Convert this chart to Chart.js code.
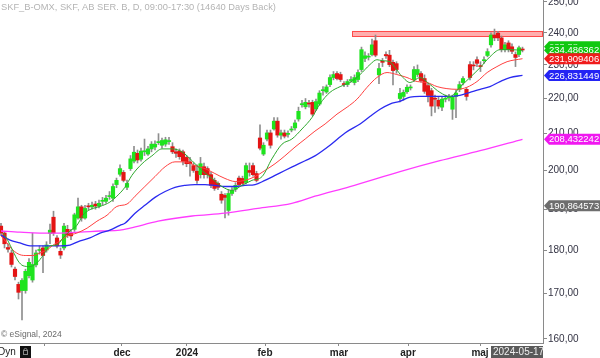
<!DOCTYPE html>
<html><head><meta charset="utf-8">
<script src="https://cdn.jsdelivr.net/npm/chart.js@4.4.1/dist/chart.umd.min.js"></script>
<style>html,body{margin:0;padding:0;background:#fff;overflow:hidden}#wrap{width:600px;height:358px;position:relative}</style>
</head><body><div id="wrap"><canvas id="c" width="600" height="358"></canvas></div>
<script>
const titleText = "SKF_B-OMX, SKF, AB SER. B, D, 09:00-17:30 (14640 Days Back)";
const copyrightText = "\u00a9 eSignal, 2024";
const lastDate = "2024-05-17";

const opens = [185.8,184.1,180.6,179.3,175.5,172.0,170.6,170.6,174.0,173.0,
176.5,179.9,180.5,180.0,184.0,188.0,182.9,179.7,180.5,185.0,
184.0,185.0,187.8,190.6,187.8,190.8,190.6,191.3,190.8,192.0,
192.0,193.2,192.8,196.3,199.0,199.5,195.6,200.5,202.5,204.6,
203.0,205.0,204.4,205.8,206.3,207.5,206.8,207.1,207.8,206.4,
205.0,205.2,205.0,203.5,202.3,201.3,199.8,198.9,201.0,200.5,
198.9,197.4,196.6,193.8,193.5,189.7,194.0,195.1,198.0,197.9,
196.9,200.0,201.3,199.2,208.8,204.4,208.5,210.2,211.3,213.5,
209.6,210.2,209.8,211.0,211.6,214.1,218.2,217.6,218.6,218.9,
217.0,218.4,222.3,221.9,224.1,226.2,227.4,227.1,224.4,224.1,
225.3,224.7,225.6,228.6,232.0,232.4,
233.2,237.5,227.0,231.0,233.2,233.0,230.8,230.4,220.0,220.6,222.0,223.1,225.6,227.1,227.4,225.9,223.8,222.3,220.0,219.5,217.5,219.8,
220.2,
216.9,220.6,222.7,224.7,222.7,230.1,230.0,231.6,229.8,231.3,232.9,236.2,239.3,239.9,238.4,234.7,236.8,235.6,233.2,233.2,234.8];

const highs = [186.5,184.5,181.5,180.0,176.0,172.5,173.3,175.5,178.0,184.1,
180.0,181.0,181.0,182.0,186.3,189.5,183.5,180.5,186.5,186.0,
185.0,189.0,192.8,191.0,191.0,191.5,191.8,192.0,192.3,193.0,
193.5,194.5,196.5,198.0,201.5,200.0,197.5,204.0,206.5,205.5,
206.0,208.5,206.5,207.8,208.0,210.0,208.8,209.0,209.0,207.5,
205.8,205.8,205.5,204.0,203.5,202.0,201.5,203.5,202.0,201.0,
199.5,198.0,197.0,194.5,194.0,195.0,195.5,196.8,198.5,198.5,
202.0,202.0,202.0,199.8,212.5,207.5,211.0,211.0,214.5,214.5,
211.0,211.0,210.8,212.0,213.8,217.5,219.5,220.0,219.5,219.5,
219.8,222.3,223.5,224.0,227.0,228.0,228.0,227.8,225.0,225.6,
226.5,227.0,228.5,235.5,234.0,233.5,
238.0,239.3,230.5,232.0,234.0,234.5,231.5,231.0,223.0,222.5,224.0,224.0,229.5,230.0,228.0,227.0,224.5,223.0,221.0,220.5,220.5,221.0,
221.2,
221.0,222.5,225.0,226.5,223.2,231.0,231.0,232.5,231.0,232.5,235.0,240.0,241.2,240.5,239.0,237.0,237.5,236.5,234.0,235.8,235.5];

const lows = [183.5,180.5,179.5,176.0,173.0,168.7,164.1,170.0,173.5,172.5,
176.0,179.0,174.7,179.5,181.5,183.5,180.5,178.0,180.0,183.0,
182.5,184.5,187.5,187.0,187.5,189.8,190.0,190.0,190.3,191.0,
191.5,192.5,192.0,195.5,198.5,197.0,195.0,200.0,202.0,202.0,
202.5,204.0,204.0,205.0,205.5,207.0,206.0,206.5,207.0,204.5,
203.5,203.0,201.5,201.0,198.5,199.5,196.6,198.0,198.0,198.0,
195.5,194.8,195.0,191.5,187.8,188.5,193.5,194.5,195.8,196.0,
196.5,198.5,198.5,197.0,205.5,204.0,208.0,206.0,211.0,209.0,
208.5,208.8,209.0,210.5,211.0,213.5,217.5,217.0,217.5,215.0,
216.5,218.0,221.0,221.5,223.5,225.5,225.5,225.0,223.5,223.5,
224.8,224.0,225.0,228.0,231.0,231.5,
232.8,232.5,224.4,229.5,232.0,229.5,224.0,227.5,219.0,219.5,221.5,222.5,225.0,226.5,224.8,221.5,219.0,215.0,216.0,217.0,216.5,219.0,
219.3,
214.0,214.5,222.0,224.0,219.5,225.5,228.5,229.5,228.0,230.5,232.5,235.5,237.5,237.5,234.0,234.0,234.0,233.5,229.5,232.5,234.0];

const closes = [184.1,181.5,180.2,176.6,173.8,170.2,172.9,175.0,177.1,176.6,
179.3,180.0,178.7,181.2,184.8,184.1,181.0,178.8,185.8,183.6,
183.4,188.6,190.6,187.8,190.2,190.6,191.0,190.8,191.5,192.2,
192.8,193.4,195.8,197.4,200.5,197.4,196.6,203.1,204.9,202.8,
205.2,205.3,205.8,207.1,207.1,207.8,208.1,208.3,208.0,205.0,
204.6,203.7,202.5,201.8,201.8,200.0,197.4,201.8,198.9,198.9,
196.1,195.3,195.6,192.3,193.0,194.0,194.8,196.1,196.3,196.6,
201.3,199.5,198.9,197.4,206.0,206.8,210.2,206.8,213.5,209.6,
210.2,209.3,209.9,211.3,213.0,216.3,218.5,218.9,218.4,215.5,
219.1,221.6,222.5,223.4,226.2,227.1,225.9,225.6,224.1,225.0,
225.6,226.2,227.7,234.7,232.8,232.6,
236.2,233.0,228.9,230.8,232.8,230.1,228.3,228.6,221.5,221.8,223.3,223.3,228.6,228.6,225.3,222.1,220.9,217.8,219.8,217.8,219.8,220.0,
220.5,
220.4,221.6,224.1,225.9,220.6,226.2,229.7,230.5,229.5,231.6,234.1,239.3,238.4,238.4,234.7,236.2,234.7,234.2,232.3,235.3,234.6];

// moving averages: [bar index, value]
const maGreen = [[0.6,184.1],[2,182.2],[3.4,179.8],[4.9,177.4],[6.3,176.3],[8.3,176.1],[10.3,177.0],[12,178.7],[14,181.0],[16,181.2],[17.7,182.9],[19.7,184.6],[21.7,186.0],[23.4,188.5],[25.4,189.9],[28.3,190.7],[31.1,191.8],[33.1,193.3],[35.4,195.6],[37.4,198.7],[40.3,201.8],[43.1,203.9],[46,205.8],[48.9,205.8],[51.7,205.0],[54.6,202.6],[57.4,200.0],[60.3,197.9],[63.1,195.8],[66,194.8],[68.9,196.1],[71.7,197.4],[74.6,198.4],[77.4,203.1],[80.3,207.1],[83.1,208.5],[86,211.3],[88.9,214.6],[91.1,218.4],[94,221.8],[96.9,223.5],[99.7,224.7],[102.6,227.1],[105.4,230.1],[107.4,231.6],[108.9,231.3],[111.1,231.0],[112.6,229.2],[114.6,226.5],[116.9,224.7],[119.7,226.2],[122.6,224.1],[125.4,221.8],[128.3,220.6],[131.1,223.3],[134,226.2],[136.9,229.2],[139.7,232.5],[142.6,234.7],[145.4,234.7],[149,234.49]];
const maRed = [[0,183.4],[1.7,181.7],[3.4,180.0],[5.4,178.9],[7.4,178.7],[9.1,178.7],[11.1,179.3],[13.1,180.0],[14.9,181.2],[16.9,182.2],[18.9,183.4],[21.7,184.1],[24.6,185.3],[27.4,187.0],[30.3,188.5],[33.1,190.7],[36,191.3],[38.3,193.3],[41.1,195.8],[44,198.4],[46.9,201.0],[49.7,202.3],[52.6,202.3],[55.4,201.3],[58.3,200.5],[61.1,199.2],[64,197.9],[66.9,197.1],[69.7,197.4],[72.6,198.4],[75.4,200.0],[78.3,201.8],[81.1,203.9],[84,206.3],[86.9,208.5],[89.7,210.7],[92.6,212.7],[96,215.5],[98.9,217.5],[101.7,219.8],[104.6,223.3],[107.4,226.2],[110.3,227.7],[113.1,227.1],[116,226.2],[118.9,225.0],[121.7,224.7],[124.6,223.5],[127.4,222.9],[130.3,222.7],[133.1,223.3],[136,225.0],[138.9,227.7],[141.7,229.5],[144.6,231.0],[149,231.91]];
const maBlue = [[0,183.6],[2.6,182.4],[5.4,181.7],[8.3,181.0],[11.1,181.0],[14,181.0],[16.9,181.0],[19.7,181.2],[22.6,182.2],[25.4,182.9],[28.3,184.1],[31.1,184.8],[34,186.0],[35.4,186.5],[38.3,189.0],[41.1,191.0],[44,193.0],[46.9,194.5],[49.7,195.6],[52.6,196.1],[55.4,196.3],[58.3,196.3],[61.1,196.1],[64,195.8],[66.9,195.8],[69.7,196.1],[72.6,196.3],[75.4,197.4],[78.3,198.7],[81.1,200.0],[84,201.3],[86.9,202.6],[89.7,203.9],[94,206.8],[98.3,210.2],[102.6,212.7],[105.4,214.8],[108.3,216.9],[111.1,218.4],[114,219.2],[116.9,220.4],[119.7,220.6],[122.6,220.6],[125.4,220.6],[128.3,220.6],[131.1,220.9],[134,221.8],[136.9,222.7],[139.7,223.5],[142.6,225.0],[145.4,226.2],[149,226.83]];
const maMagenta = [[0,184.6],[5.4,184.3],[11.1,184.1],[16.9,184.1],[22.6,184.3],[28.3,184.6],[34,184.8],[36.9,185.3],[44.9,187.0],[54.6,188.3],[64,189.0],[73.4,190.2],[83.1,191.5],[89.7,193.3],[99.7,195.8],[114,199.7],[125.4,202.6],[136.9,205.3],[149,208.43]];

const monthTickIdx = [12.57, 34.57, 53.14, 75.43, 96.57, 116.29, 136.86];
const monthTickLabels = ['', 'dec', '2024', 'feb', 'mar', 'apr', 'maj'];
const priceTicks = [160,170,180,190,200,210,220,230,240,250];

const badgeValues = [235.58, 234.486362, 231.909406, 226.831449, 208.432242, 190.864573];
const badgeTexts = ['235,58', '234,486362', '231,909406', '226,831449', '208,432242', '190,864573'];
const badgeColors = ['#10c810', '#10c810', '#f01c1c', '#2424f4', '#f018f0', '#6e6e6e'];

const resistanceStartIdx = 100.3;
const resistanceRange = [238.9, 240.6];

const FONT = "'Liberation Sans', Arial, Helvetica, sans-serif";
const UP = '#1ee41e', DOWN = '#e41414', WICK = '#8e8e8e';

const bodies = opens.map((o, i) => ({x: i, y: [o, closes[i]]}));
const bodyColors = opens.map((o, i) => closes[i] >= o ? UP : DOWN);
const wicks = lows.map((l, i) => ({x: i, y: [l, highs[i]]}));
const toPts = a => a.map(p => ({x: p[0], y: p[1]}));

const overlay = {
  id: 'overlay',
  beforeDatasetsDraw(chart) {
    const {ctx, chartArea, scales} = chart;
    const x0 = scales.x.getPixelForValue(resistanceStartIdx);
    const yTop = scales.y.getPixelForValue(resistanceRange[1]);
    const yBot = scales.y.getPixelForValue(resistanceRange[0]);
    ctx.save();
    ctx.fillStyle = 'rgba(255,120,120,0.6)';
    ctx.fillRect(x0, yTop, chartArea.right - x0, yBot - yTop);
    ctx.strokeStyle = '#ff4a4a';
    ctx.lineWidth = 1;
    ctx.strokeRect(Math.round(x0) + 0.5, Math.round(yTop) + 0.5, chartArea.right - Math.round(x0) - 1, Math.round(yBot - yTop));
    ctx.restore();
  },
  afterDraw(chart) {
    const {ctx, chartArea, scales} = chart;
    ctx.save();
    ctx.font = '9.3px ' + FONT;
    ctx.fillStyle = '#b4b4b4';
    ctx.textBaseline = 'middle';
    ctx.textAlign = 'left';
    ctx.fillText(titleText, 1, 7);
    ctx.font = '8.5px ' + FONT;
    ctx.fillStyle = '#6a6a6a';
    ctx.fillText(copyrightText, 1, 335);
    ctx.font = '10px ' + FONT;
    ctx.fillStyle = '#222';
    ctx.fillText('Dyn', -2, 352);
    ctx.fillStyle = '#111';
    ctx.fillRect(20, 346, 11, 12);
    ctx.strokeStyle = '#888';
    ctx.lineWidth = 1;
    ctx.strokeRect(23.5, 350.5, 4, 4);
    ctx.beginPath(); ctx.arc(25.5, 350, 1.6, Math.PI, 0); ctx.stroke();
    const r = chartArea.right;
    ctx.fillStyle = '#5a5a5a';
    ctx.fillRect(r - 52, 346, 52, 12);
    ctx.fillStyle = '#eeeeee';
    ctx.font = '10px ' + FONT;
    ctx.fillText(lastDate, r - 50, 352.5);
    ctx.font = '9.5px ' + FONT;
    for (let i = 0; i < badgeValues.length; i++) {
      const y = scales.y.getPixelForValue(badgeValues[i]);
      const h = 5.5;
      ctx.fillStyle = badgeColors[i];
      ctx.beginPath();
      ctx.moveTo(r + 1, y);
      ctx.lineTo(r + 6, y - h);
      ctx.lineTo(600, y - h);
      ctx.lineTo(600, y + h);
      ctx.lineTo(r + 6, y + h);
      ctx.closePath();
      ctx.fill();
      ctx.fillStyle = '#ffffff';
      ctx.fillText(badgeTexts[i], r + 6, y + 0.5);
    }
    ctx.restore();
  }
};

new Chart(document.getElementById('c'), {
  type: 'bar',
  data: {
    datasets: [
      {type: 'line', data: toPts(maGreen), borderColor: '#2ea82e', borderWidth: 1, pointRadius: 0, fill: false, cubicInterpolationMode: 'monotone'},
      {type: 'line', data: toPts(maRed), borderColor: '#ff4040', borderWidth: 1, pointRadius: 0, fill: false, cubicInterpolationMode: 'monotone'},
      {type: 'line', data: toPts(maBlue), borderColor: '#2a2af0', borderWidth: 1.3, pointRadius: 0, fill: false, cubicInterpolationMode: 'monotone'},
      {type: 'line', data: toPts(maMagenta), borderColor: '#ff3cff', borderWidth: 1.3, pointRadius: 0, fill: false, cubicInterpolationMode: 'monotone'},
      {type: 'bar', data: bodies, backgroundColor: bodyColors, barThickness: 3.5, grouped: false, minBarLength: 1, borderWidth: 0},
      {type: 'bar', data: wicks, backgroundColor: WICK, barThickness: 1, grouped: false, borderWidth: 0}
    ]
  },
  options: {
    responsive: false,
    animation: false,
    devicePixelRatio: 1,
    events: [],
    layout: {padding: 0},
    plugins: {legend: {display: false}, tooltip: {enabled: false}},
    scales: {
      x: {
        type: 'linear', min: -0.286, max: 154.86, bounds: 'data', offset: false,
        afterBuildTicks: s => { s.ticks = monthTickIdx.map(v => ({value: v})); },
        afterFit: s => { s.height = 15; s.paddingLeft = 0; s.paddingRight = 0; },
        grid: {drawOnChartArea: false, tickLength: 3, color: '#8a8a8a', offset: false},
        border: {color: '#8a8a8a'},
        ticks: {autoSkip: false, maxRotation: 0, padding: 1, color: '#222',
          font: {family: FONT, size: 10, weight: 'bold'},
          callback: (v, i) => monthTickLabels[i]}
      },
      y: {
        type: 'logarithmic', position: 'right', min: 159.15, max: 250.66, bounds: 'data',
        afterBuildTicks: s => { s.ticks = priceTicks.map(v => ({value: v})); },
        afterFit: s => { s.width = 57; s.paddingTop = 0; s.paddingBottom = 0; },
        grid: {drawOnChartArea: false, tickLength: 4, color: '#8a8a8a'},
        border: {color: '#8a8a8a'},
        ticks: {autoSkip: false, padding: 1, color: '#343444',
          font: {family: FONT, size: 10},
          callback: v => Number(v).toFixed(2).replace('.', ',')}
      }
    }
  },
  plugins: [overlay]
});
</script>
</body></html>
